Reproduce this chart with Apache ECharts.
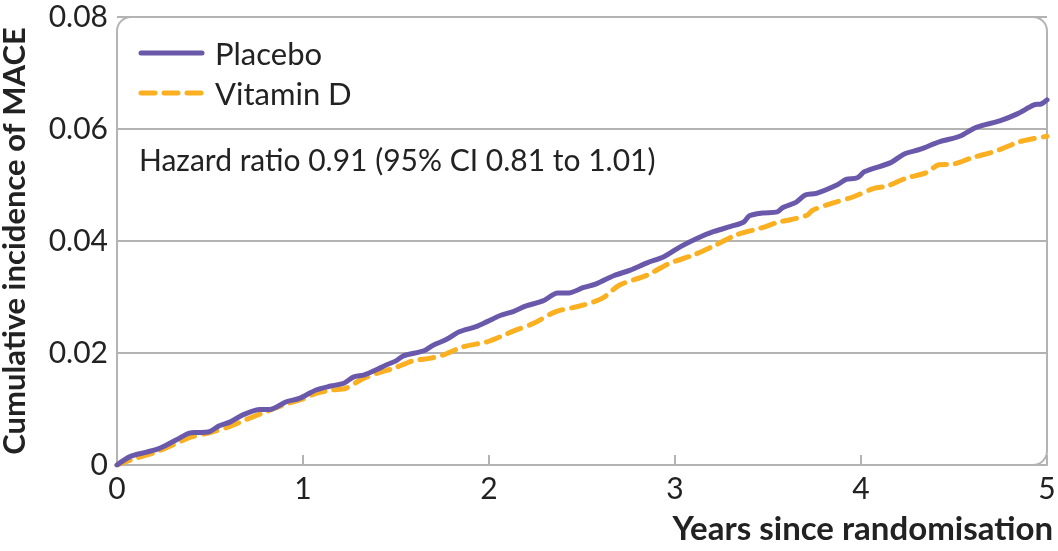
<!DOCTYPE html>
<html>
<head>
<meta charset="utf-8">
<script src="https://cdn.jsdelivr.net/npm/echarts@6/dist/echarts.min.js"></script>
<style>
html,body{margin:0;padding:0;background:#fff;}
#chart{width:1058px;height:551px;}
</style>
</head>
<body>
<div id="chart"></div>
<script>
var seriesNames = ['Placebo', 'Vitamin D'];
var xTickLabels = ['0', '1', '2', '3', '4', '5'];
var yTickLabels = ['0', '0.02', '0.04', '0.06', '0.08'];
var annotation = 'Hazard ratio 0.91 (95% CI 0.81 to 1.01)';
var xAxisTitle = 'Years since randomisation';
var yAxisTitle = 'Cumulative incidence of MACE';

var placeboYears = [0,0.07,0.16,0.23,0.32,0.39,0.43,0.49,0.55,0.61,0.68,0.77,0.82,0.91,0.98,1.07,1.15,1.22,1.27,1.33,1.40,1.45,1.50,1.54,1.65,1.70,1.77,1.84,1.93,1.99,2.06,2.13,2.20,2.29,2.37,2.42,2.51,2.58,2.67,2.76,2.85,2.94,3.03,3.12,3.21,3.30,3.37,3.40,3.47,3.55,3.58,3.65,3.70,3.76,3.87,3.92,3.98,4.02,4.16,4.23,4.32,4.42,4.53,4.62,4.75,4.84,4.93,4.97,5.0];
var placeboRisk = [0,0.0015,0.0023,0.003,0.0045,0.0057,0.0058,0.0059,0.007,0.0077,0.009,0.0099,0.0099,0.0113,0.0119,0.0134,0.0141,0.0146,0.0157,0.0161,0.0171,0.0179,0.0186,0.0195,0.0204,0.0214,0.0224,0.0238,0.0247,0.0256,0.0267,0.0274,0.0284,0.0293,0.0307,0.0307,0.0317,0.0324,0.0338,0.0348,0.0361,0.0372,0.039,0.0405,0.0417,0.0426,0.0434,0.0445,0.045,0.0452,0.046,0.0469,0.0482,0.0485,0.05,0.051,0.0513,0.0524,0.054,0.0555,0.0564,0.0577,0.0587,0.0603,0.0615,0.0627,0.0643,0.0645,0.0652];

var vitDYears = [0,0.1,0.2,0.3,0.4,0.5,0.6,0.7,0.8,0.9,1.0,1.07,1.16,1.23,1.31,1.40,1.49,1.59,1.67,1.75,1.86,1.99,2.06,2.13,2.24,2.36,2.49,2.61,2.70,2.85,2.97,3.10,3.22,3.33,3.46,3.56,3.62,3.71,3.74,3.83,3.96,4.07,4.14,4.24,4.35,4.42,4.49,4.60,4.71,4.76,4.85,4.93,5.0];
var vitDRisk = [0,0.0012,0.0022,0.0036,0.005,0.0058,0.0068,0.0082,0.0095,0.0108,0.0118,0.0128,0.0134,0.0137,0.0152,0.0164,0.0173,0.0186,0.019,0.0196,0.0211,0.022,0.0229,0.0239,0.0253,0.0274,0.0284,0.0298,0.0321,0.0339,0.036,0.0375,0.0393,0.0411,0.0423,0.0434,0.0438,0.0446,0.0455,0.0466,0.0479,0.0494,0.0498,0.0512,0.0522,0.0536,0.0537,0.0549,0.0559,0.0565,0.0577,0.0583,0.0587];

function pairs(xs, ys){ return xs.map(function(x,i){ return [x, ys[i]]; }); }

var FONT = 'Lato, "Open Sans", sans-serif';
var GRID_COLOR = '#b3b3b3';
var PURPLE = '#6a58ab';
var ORANGE = '#fbb022';
var chart = echarts.init(document.getElementById('chart'), null, {renderer:'canvas'});

var option = {
  animation: false,
  backgroundColor: '#fff',
  grid: {left: 117, right: 11, top: 17, bottom: 86, containLabel: false, outerBoundsMode: 'none'},
  legend: {
    orient: 'vertical', left: 138, top: 34, itemGap: 8,
    itemWidth: 65, itemHeight: 32,
    icon: 'rect',
    itemStyle: {opacity: 0},
    data: seriesNames,
    textStyle: {fontFamily: FONT, fontSize: 31, color: '#222', padding: [0,0,0,2]}
  },
  xAxis: {
    type: 'value', min: 0, max: 5, interval: 1,
    axisLine: {show: true, lineStyle: {color: GRID_COLOR, width: 2}},
    axisTick: {show: true, inside: true, length: 10, lineStyle: {color: GRID_COLOR, width: 2}},
    splitLine: {show: false},
    axisLabel: {fontFamily: FONT, fontSize: 30, color: '#222', margin: 9,
      formatter: function(v){ return xTickLabels[Math.round(v)]; }},
    name: xAxisTitle, nameLocation: 'end', nameGap: 0,
    nameTextStyle: {fontFamily: FONT, fontWeight: 'bold', fontSize: 33, color: '#222',
      align: 'right', verticalAlign: 'top', padding: [48, -6, 0, 0]}
  },
  yAxis: {
    type: 'value', min: 0, max: 0.08, interval: 0.02,
    axisLine: {show: false}, axisTick: {show: false},
    splitLine: {show: true, lineStyle: {color: GRID_COLOR, width: 2}},
    axisLabel: {fontFamily: FONT, fontSize: 30, color: '#222', margin: 9,
      formatter: function(v){ return yTickLabels[Math.round(v/0.02)]; }},
    name: yAxisTitle, nameLocation: 'middle', nameGap: 87,
    nameTextStyle: {fontFamily: FONT, fontWeight: 'bold', fontSize: 31, color: '#222'}
  },
  series: [
    {name: seriesNames[0], type: 'line', data: pairs(placeboYears, placeboRisk),
     symbol: 'none', smooth: 0.3, z: 3,
     lineStyle: {color: PURPLE, width: 5, cap: 'round', join: 'round'},
     itemStyle: {color: PURPLE}},
    {name: seriesNames[1], type: 'line', data: pairs(vitDYears, vitDRisk),
     symbol: 'none', smooth: 0.3, z: 2,
     lineStyle: {color: ORANGE, width: 5, type: [14, 9], cap: 'round', join: 'round'},
     itemStyle: {color: ORANGE}}
  ]
};
chart.setOption(option);

// decorative frame, legend keys and annotation placed from the axis scales
var tl = chart.convertToPixel({gridIndex:0}, [0, 0.08]);
var br = chart.convertToPixel({gridIndex:0}, [5, 0]);
chart.setOption({
  graphic: [
    {type: 'rect', silent: true, z: 0,
     shape: {x: tl[0], y: tl[1], width: br[0]-tl[0], height: br[1]-tl[1], r: [14,14,14,0]},
     style: {fill: 'none', stroke: GRID_COLOR, lineWidth: 2}},
    {type: 'line', silent: true, z: 5,
     shape: {x1: 141, y1: 53, x2: 202, y2: 53},
     style: {stroke: PURPLE, lineWidth: 5, lineCap: 'round'}},
    {type: 'line', silent: true, z: 5,
     shape: {x1: 141, y1: 93, x2: 202, y2: 93},
     style: {stroke: ORANGE, lineWidth: 5, lineCap: 'round', lineDash: [14, 9]}},
    {type: 'text', silent: true, z: 5, left: 139, top: 146,
     style: {text: annotation, font: '30px ' + FONT, fill: '#222'}}
  ]
});
</script>
</body>
</html>
